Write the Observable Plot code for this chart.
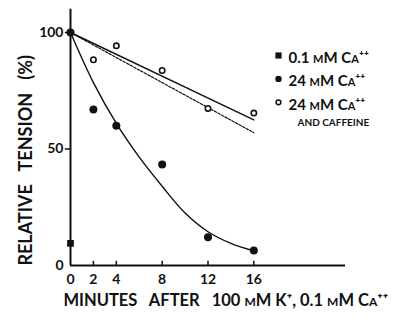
<!DOCTYPE html>
<html><head><meta charset="utf-8">
<script src="https://cdn.jsdelivr.net/npm/d3@7"></script>
<script src="https://cdn.jsdelivr.net/npm/@observablehq/plot@0.6"></script>
<style>body{margin:0;background:#fff}</style>
</head><body><div id="chart"></div>
<script>
const minutes = [0, 2, 4, 8, 12, 16];
const lowCaMinutes = [0];
const lowCaTension = [9.5];
const highCaTension = [100, 67, 60, 43.3, 12.1, 6.4];
const caffeineTension = [100, 88.3, 94.3, 83.7, 67.4, 65.4];
const curveMinutes = [0, 2, 4, 6, 8, 10, 12, 14, 16];
const curveTension = [100, 78.5, 61, 46.5, 34, 22.5, 14.5, 9.5, 6.3];
const solidMinutes = [0, 16];
const solidTension = [100, 62.5];
const dashedMinutes = [0, 16];
const dashedTension = [100, 57];
const xTicks = [0, 2, 4, 8, 12, 16];
const yTicks = [0, 50, 100];
const legendLabels = ["0.1 mM Ca⁺⁺", "24 mM Ca⁺⁺", "24 mM Ca⁺⁺"];
const legendNote = "AND CAFFEINE";
const gap = "\u00a0".repeat(3);
const yLabel = "RELATIVE" + gap + "TENSION" + gap + "(%)";
const xLabel = "MINUTES\u00a0\u00a0\u00a0AFTER\u00a0\u00a0\u00a0100 mM K⁺, 0.1 mM Ca⁺⁺";

const zip = (xs, ys) => xs.map((x, i) => ({x, y: ys[i]}));
const font = "Lato, 'DejaVu Sans', sans-serif";
const ink = "#111";

const legendRows = [
  {symbol: "square", r: 3.5, fill: ink, sw: 0},
  {symbol: "circle", r: 3.2, fill: ink, sw: 0},
  {symbol: "circle", r: 2.4, fill: "#fff", sw: 1.5}
];

const chart = Plot.plot({
  width: 396, height: 316,
  marginLeft: 70, marginRight: 51, marginTop: 8.7, marginBottom: 51,
  style: {fontFamily: font, background: "#fff", color: ink},
  x: {domain: [0, 24], axis: null},
  y: {domain: [0, 110], axis: null},
  marks: [
    Plot.ruleX([0], {y1: 0, y2: 110, stroke: ink, strokeWidth: 2}),
    Plot.ruleY([0], {x1: 0, x2: 24, stroke: ink, strokeWidth: 2}),
    Plot.ruleX(xTicks.slice(1), {x: d => d, y1: 0, y2: 1.8, stroke: ink, strokeWidth: 1.5}),
    Plot.text(xTicks, {x: d => d, y: 0, dy: 14, text: d => String(d), fontSize: 14, fontWeight: "bold", fill: ink}),
    Plot.ruleY(yTicks.slice(1), {y: d => d, x1: 0, x2: -0.45, stroke: ink, strokeWidth: 1.5}),
    Plot.text(yTicks, {x: 0, y: d => d, dx: -7, text: d => String(d), textAnchor: "end", fontSize: 14, fontWeight: "bold", fill: ink}),
    Plot.line(zip(curveMinutes, curveTension), {x: "x", y: "y", curve: "catmull-rom", stroke: ink, strokeWidth: 1.4}),
    Plot.line(zip(solidMinutes, solidTension), {x: "x", y: "y", stroke: ink, strokeWidth: 1.4}),
    Plot.line(zip(dashedMinutes, dashedTension), {x: "x", y: "y", stroke: ink, strokeWidth: 1.2, strokeDasharray: "2.5,1.5"}),
    Plot.dot(zip(minutes, caffeineTension), {x: "x", y: "y", r: 2.7, stroke: ink, strokeWidth: 1.6, fill: "#fff"}),
    Plot.dot(zip(minutes, highCaTension), {x: "x", y: "y", r: 4, fill: ink, stroke: "none"}),
    Plot.dot(zip(lowCaMinutes, lowCaTension), {x: "x", y: "y", symbol: "square", r: 3.8, fill: ink, stroke: "none"}),
    // legend
    ...legendRows.map((s, i) => Plot.dot([legendLabels[i]], {frameAnchor: "top-left", dx: 208, dy: 46.3 + 23.4 * i, symbol: s.symbol, r: s.r, fill: s.fill, stroke: ink, strokeWidth: s.sw})),
    ...legendLabels.map((lab, i) => Plot.text([lab], {frameAnchor: "top-left", lineAnchor: "middle", dx: 218, dy: 48.8 + 23.5 * i, text: d => d, textAnchor: "start", fontSize: 15, fontWeight: "bold", fontVariant: "small-caps", fill: ink})),
    Plot.text([legendNote], {frameAnchor: "top-left", lineAnchor: "middle", dx: 227, dy: 113.8, text: d => d, textAnchor: "start", fontSize: 10, fontWeight: "bold", fill: ink}),
    // axis labels
    Plot.text([yLabel], {frameAnchor: "left", textAnchor: "middle", lineAnchor: "middle", dx: -44, dy: 23, rotate: -90, text: d => d, fontSize: 18, fontWeight: "bold", fill: ink}),
    Plot.text([xLabel], {frameAnchor: "bottom-left", textAnchor: "start", lineAnchor: "middle", dx: -7, dy: 35, text: d => d, fontSize: 16.5, fontWeight: "bold", fontVariant: "small-caps", fill: ink})
  ]
});
document.getElementById("chart").append(chart);
</script></body></html>
